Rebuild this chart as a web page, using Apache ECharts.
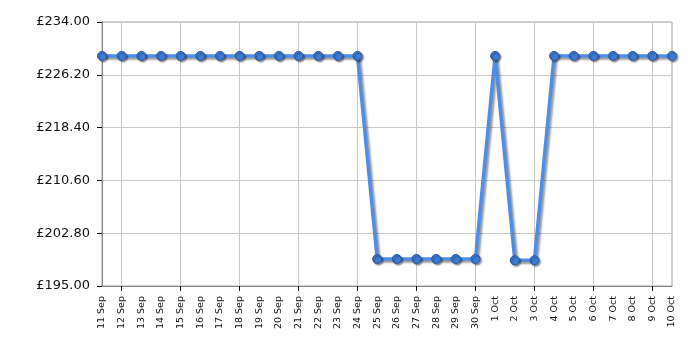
<!DOCTYPE html>
<html><head><meta charset="utf-8">
<script src="https://cdn.jsdelivr.net/npm/echarts@6/dist/echarts.min.js"></script>
<style>html,body{margin:0;padding:0;background:#fff}#c{width:700px;height:350px}</style>
</head><body><div id="c"></div>
<script>
const categories = ["11 Sep","12 Sep","13 Sep","14 Sep","15 Sep","16 Sep","17 Sep","18 Sep","19 Sep","20 Sep","21 Sep","22 Sep","23 Sep","24 Sep","25 Sep","26 Sep","27 Sep","28 Sep","29 Sep","30 Sep","1 Oct","2 Oct","3 Oct","4 Oct","5 Oct","6 Oct","7 Oct","8 Oct","9 Oct","10 Oct"];
const prices = [228.99,228.99,228.99,228.99,228.99,228.99,228.99,228.99,228.99,228.99,228.99,228.99,228.99,228.99,198.99,198.99,198.99,198.99,198.99,198.99,228.99,198.80,198.80,228.99,228.99,228.99,228.99,228.99,228.99,228.99];
const yMin = 195.0, yMax = 234.0, yStep = 7.8;

const chart = echarts.init(document.getElementById('c'), null, {renderer:'canvas'});
const every3 = (i) => i % 3 === 1;
chart.setOption({
  animation:false,
  grid:{left:102,right:28,top:22,bottom:64,show:true,borderColor:'#a0a0a0',borderWidth:1,backgroundColor:'transparent'},
  xAxis:{
    type:'category', data:categories, boundaryGap:false,
    axisLine:{lineStyle:{color:'#888',width:1}},
    axisTick:{show:true,interval:every3,length:5,lineStyle:{color:'#000'}},
    splitLine:{show:true,interval:every3,lineStyle:{color:'#c8c8c8',width:1}},
    axisLabel:{interval:0,rotate:90,fontSize:9.5,fontFamily:'DejaVu Sans',color:'#111',margin:10}
  },
  yAxis:{
    type:'value', min:yMin, max:yMax, interval:yStep,
    axisLine:{show:true,lineStyle:{color:'#888',width:1}},
    axisTick:{show:true,length:5,lineStyle:{color:'#000'}},
    splitLine:{show:true,lineStyle:{color:'#c8c8c8',width:1}},
    axisLabel:{fontSize:13,fontFamily:'DejaVu Sans',color:'#111',margin:12,
      formatter:(v)=>'£'+v.toFixed(2)}
  },
  series:[{
    type:'line', data:prices, symbol:'circle', symbolSize:9,
    lineStyle:{color:'#4f8ee6',width:3.5,shadowColor:'rgba(0,0,0,0.4)',shadowBlur:2,shadowOffsetX:2,shadowOffsetY:2},
    itemStyle:{color:'#3d7bd6',borderColor:'#2a5aa0',borderWidth:1,shadowColor:'rgba(0,0,0,0.4)',shadowBlur:1.5,shadowOffsetX:1.5,shadowOffsetY:1.5}
  }]
});
</script></body></html>
